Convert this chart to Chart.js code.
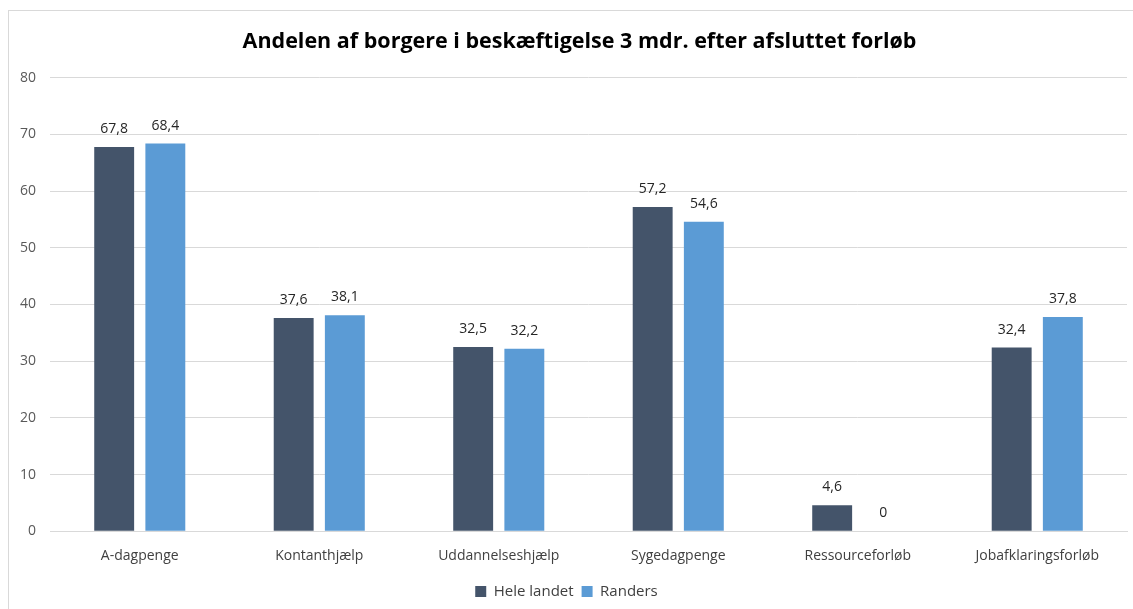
<!DOCTYPE html>
<html lang="da">
<head>
  <meta charset="UTF-8">
  <title>Andelen af borgere i beskæftigelse</title>
  <script src="https://cdn.jsdelivr.net/npm/chart.js"></script>
  <style>
    body {
      margin: 0;
      padding: 0;
      background: #ffffff;
      overflow: hidden;
    }
    .frame {
      position: absolute;
      left: 8px;
      top: 10px;
      width: 1200px;
      height: 700px;
      border: 1px solid #d9d9d9;
    }
    .wrap {
      position: absolute;
      left: 0;
      top: 0;
      width: 1133px;
      height: 609px;
    }
  </style>
</head>
<body>

<div class="frame"></div>
<div class="wrap">
  <canvas id="barChart"></canvas>
</div>

<script>
  const categories = ['A-dagpenge', 'Kontanthjælp', 'Uddannelseshjælp', 'Sygedagpenge', 'Ressourceforløb', 'Jobafklaringsforløb'];
  const heleLandet = [67.8, 37.6, 32.5, 57.2, 4.6, 32.4];
  const randers = [68.4, 38.1, 32.2, 54.6, 0, 37.8];
  const yTicks = [0, 10, 20, 30, 40, 50, 60, 70, 80];

  // draws the value over each bar, with a Danish decimal comma
  const valueLabels = {
    id: 'valueLabels',
    afterDatasetsDraw(chart) {
      const ctx = chart.ctx;
      ctx.save();
      ctx.font = '14px "Open Sans", sans-serif';
      ctx.fillStyle = '#262626';
      ctx.textAlign = 'center';
      ctx.textBaseline = 'middle';
      chart.data.datasets.forEach((ds, i) => {
        chart.getDatasetMeta(i).data.forEach((bar, j) => {
          const txt = String(ds.data[j]).replace('.', ',');
          ctx.fillText(txt, bar.x, bar.y - 18);
        });
      });
      ctx.restore();
    }
  };

  // nudge the title a little right, like the original
  const titleShift = {
    id: 'titleShift',
    afterLayout(chart) {
      chart.titleBlock.left += 26;
    }
  };

  const ctx = document.getElementById('barChart').getContext('2d');
  new Chart(ctx, {
    type: 'bar',
    data: {
      labels: categories,
      datasets: [{
        label: 'Hele landet',
        data: heleLandet,
        backgroundColor: '#44546a',
        categoryPercentage: 0.57,
        barPercentage: 0.78
      }, {
        label: 'Randers',
        data: randers,
        backgroundColor: '#5b9bd5',
        categoryPercentage: 0.57,
        barPercentage: 0.78
      }]
    },
    options: {
      responsive: true,
      maintainAspectRatio: false,
      animation: false,
      layout: { padding: { left: 6, right: 6, top: 4, bottom: 0 } },
      plugins: {
        title: {
          display: true,
          text: 'Andelen af borgere i beskæftigelse 3 mdr. efter afsluttet forløb',
          color: '#000000',
          font: { family: '"Open Sans", sans-serif', size: 21.5, weight: 'bold' },
          padding: { top: 25, bottom: 23 }
        },
        legend: {
          position: 'bottom',
          labels: {
            color: '#404040',
            font: { family: '"Open Sans", sans-serif', size: 15 },
            boxWidth: 11,
            boxHeight: 11,
            padding: 8
          }
        },
        tooltip: { enabled: false }
      },
      scales: {
        x: {
          grid: { display: false },
          border: { color: '#d9d9d9' },
          afterFit(scale) {
            scale.height += 4;
          },
          ticks: {
            color: '#404040',
            font: { family: '"Open Sans", sans-serif', size: 14 },
            padding: 8
          }
        },
        y: {
          min: 0,
          max: 80,
          afterBuildTicks(axis) {
            axis.ticks = yTicks.map(v => ({ value: v }));
          },
          grid: { color: '#d9d9d9', drawTicks: false },
          border: { display: false },
          ticks: {
            color: '#595959',
            font: { family: '"Open Sans", sans-serif', size: 14 },
            padding: 14
          }
        }
      }
    },
    plugins: [valueLabels, titleShift]
  });
</script>

</body>
</html>
